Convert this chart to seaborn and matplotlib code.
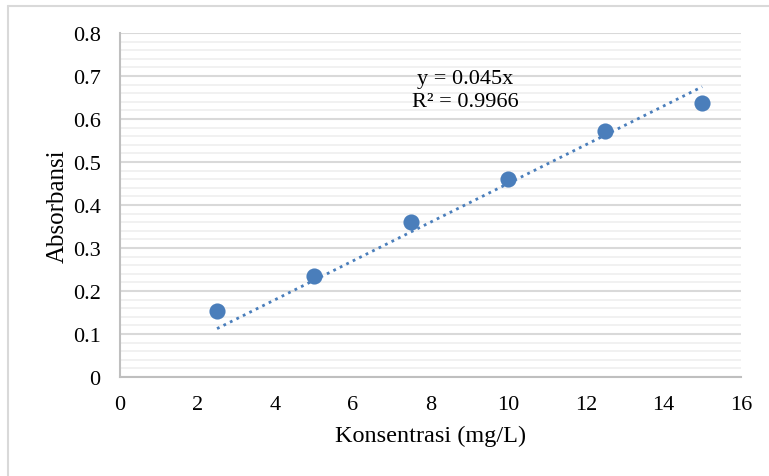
import numpy as np
import matplotlib
matplotlib.use('Agg')
import matplotlib.pyplot as plt
import seaborn as sns
from matplotlib.lines import Line2D
from matplotlib.ticker import MultipleLocator, FuncFormatter

# Data
konsentrasi = [2.5, 5, 7.5, 10, 12.5, 15]
absorbansi = [0.153, 0.236, 0.360, 0.461, 0.571, 0.637]
slope = 0.045
r2_text = "R² = 0.9966"
eq_text = "y = 0.045x"

# Style
sns.set_theme(style="white")
plt.rcParams['font.family'] = ['Liberation Serif', 'DejaVu Serif']

blue = '#4a7ebb'
grid_major = '#d9d9d9'
grid_minor = '#f0f0f0'
axis_col = '#bfbfbf'

fig = plt.figure(figsize=(7.69, 4.77), dpi=100)
ax = fig.add_axes([120 / 769, 1 - 378 / 477, 621 / 769, 344 / 477])

# trendline (linear through origin)
trend_x = np.array([konsentrasi[0], konsentrasi[-1]])
trend_y = slope * trend_x
sns.lineplot(x=trend_x, y=trend_y, ax=ax, color=blue, lw=2.0,
             linestyle=(0, (1, 1.6)), zorder=3)

sns.scatterplot(x=konsentrasi, y=absorbansi, ax=ax, color=blue, s=135,
                edgecolor=blue, linewidth=0, zorder=4)

ax.set_xlim(0, 16)
ax.set_ylim(0, 0.8)
ax.xaxis.set_major_locator(MultipleLocator(2))
ax.yaxis.set_major_locator(MultipleLocator(0.1))
ax.yaxis.set_minor_locator(MultipleLocator(0.02))
ax.yaxis.set_major_formatter(FuncFormatter(lambda v, p: '0' if abs(v) < 1e-9 else f'{v:.1f}'))

ax.grid(True, axis='y', which='major', color=grid_major, lw=1.5, zorder=1)
ax.grid(True, axis='y', which='minor', color=grid_minor, lw=1.3, zorder=0)
ax.set_axisbelow(True)

for side in ['top', 'right']:
    ax.spines[side].set_visible(False)
for side in ['left', 'bottom']:
    ax.spines[side].set_color(axis_col)
    ax.spines[side].set_linewidth(1.5)

ax.tick_params(axis='both', which='major', direction='out', length=5,
               width=1.2, color=axis_col, labelsize=16, labelcolor='black')
ax.tick_params(axis='y', which='minor', length=0)
ax.tick_params(axis='x', pad=8)
ax.tick_params(axis='y', pad=9)

ax.set_xlabel('Konsentrasi (mg/L)', fontsize=17.5, color='black', labelpad=8)
ax.set_ylabel('Absorbansi', fontsize=18, color='black', labelpad=3)

ax.text(8.9, 0.668, eq_text + '\n' + r2_text, fontsize=16, ha='center',
        va='center', linespacing=1.3, color='black')

# chart border (partially visible in reference)
fig.add_artist(Line2D([8 / 769, 8 / 769], [0, 1 - 7 / 477],
                      transform=fig.transFigure, color='#d9d9d9', lw=1.5))
fig.add_artist(Line2D([8 / 769, 1], [1 - 7 / 477, 1 - 7 / 477],
                      transform=fig.transFigure, color='#d9d9d9', lw=1.5))

fig.savefig('out.png', dpi=100)
